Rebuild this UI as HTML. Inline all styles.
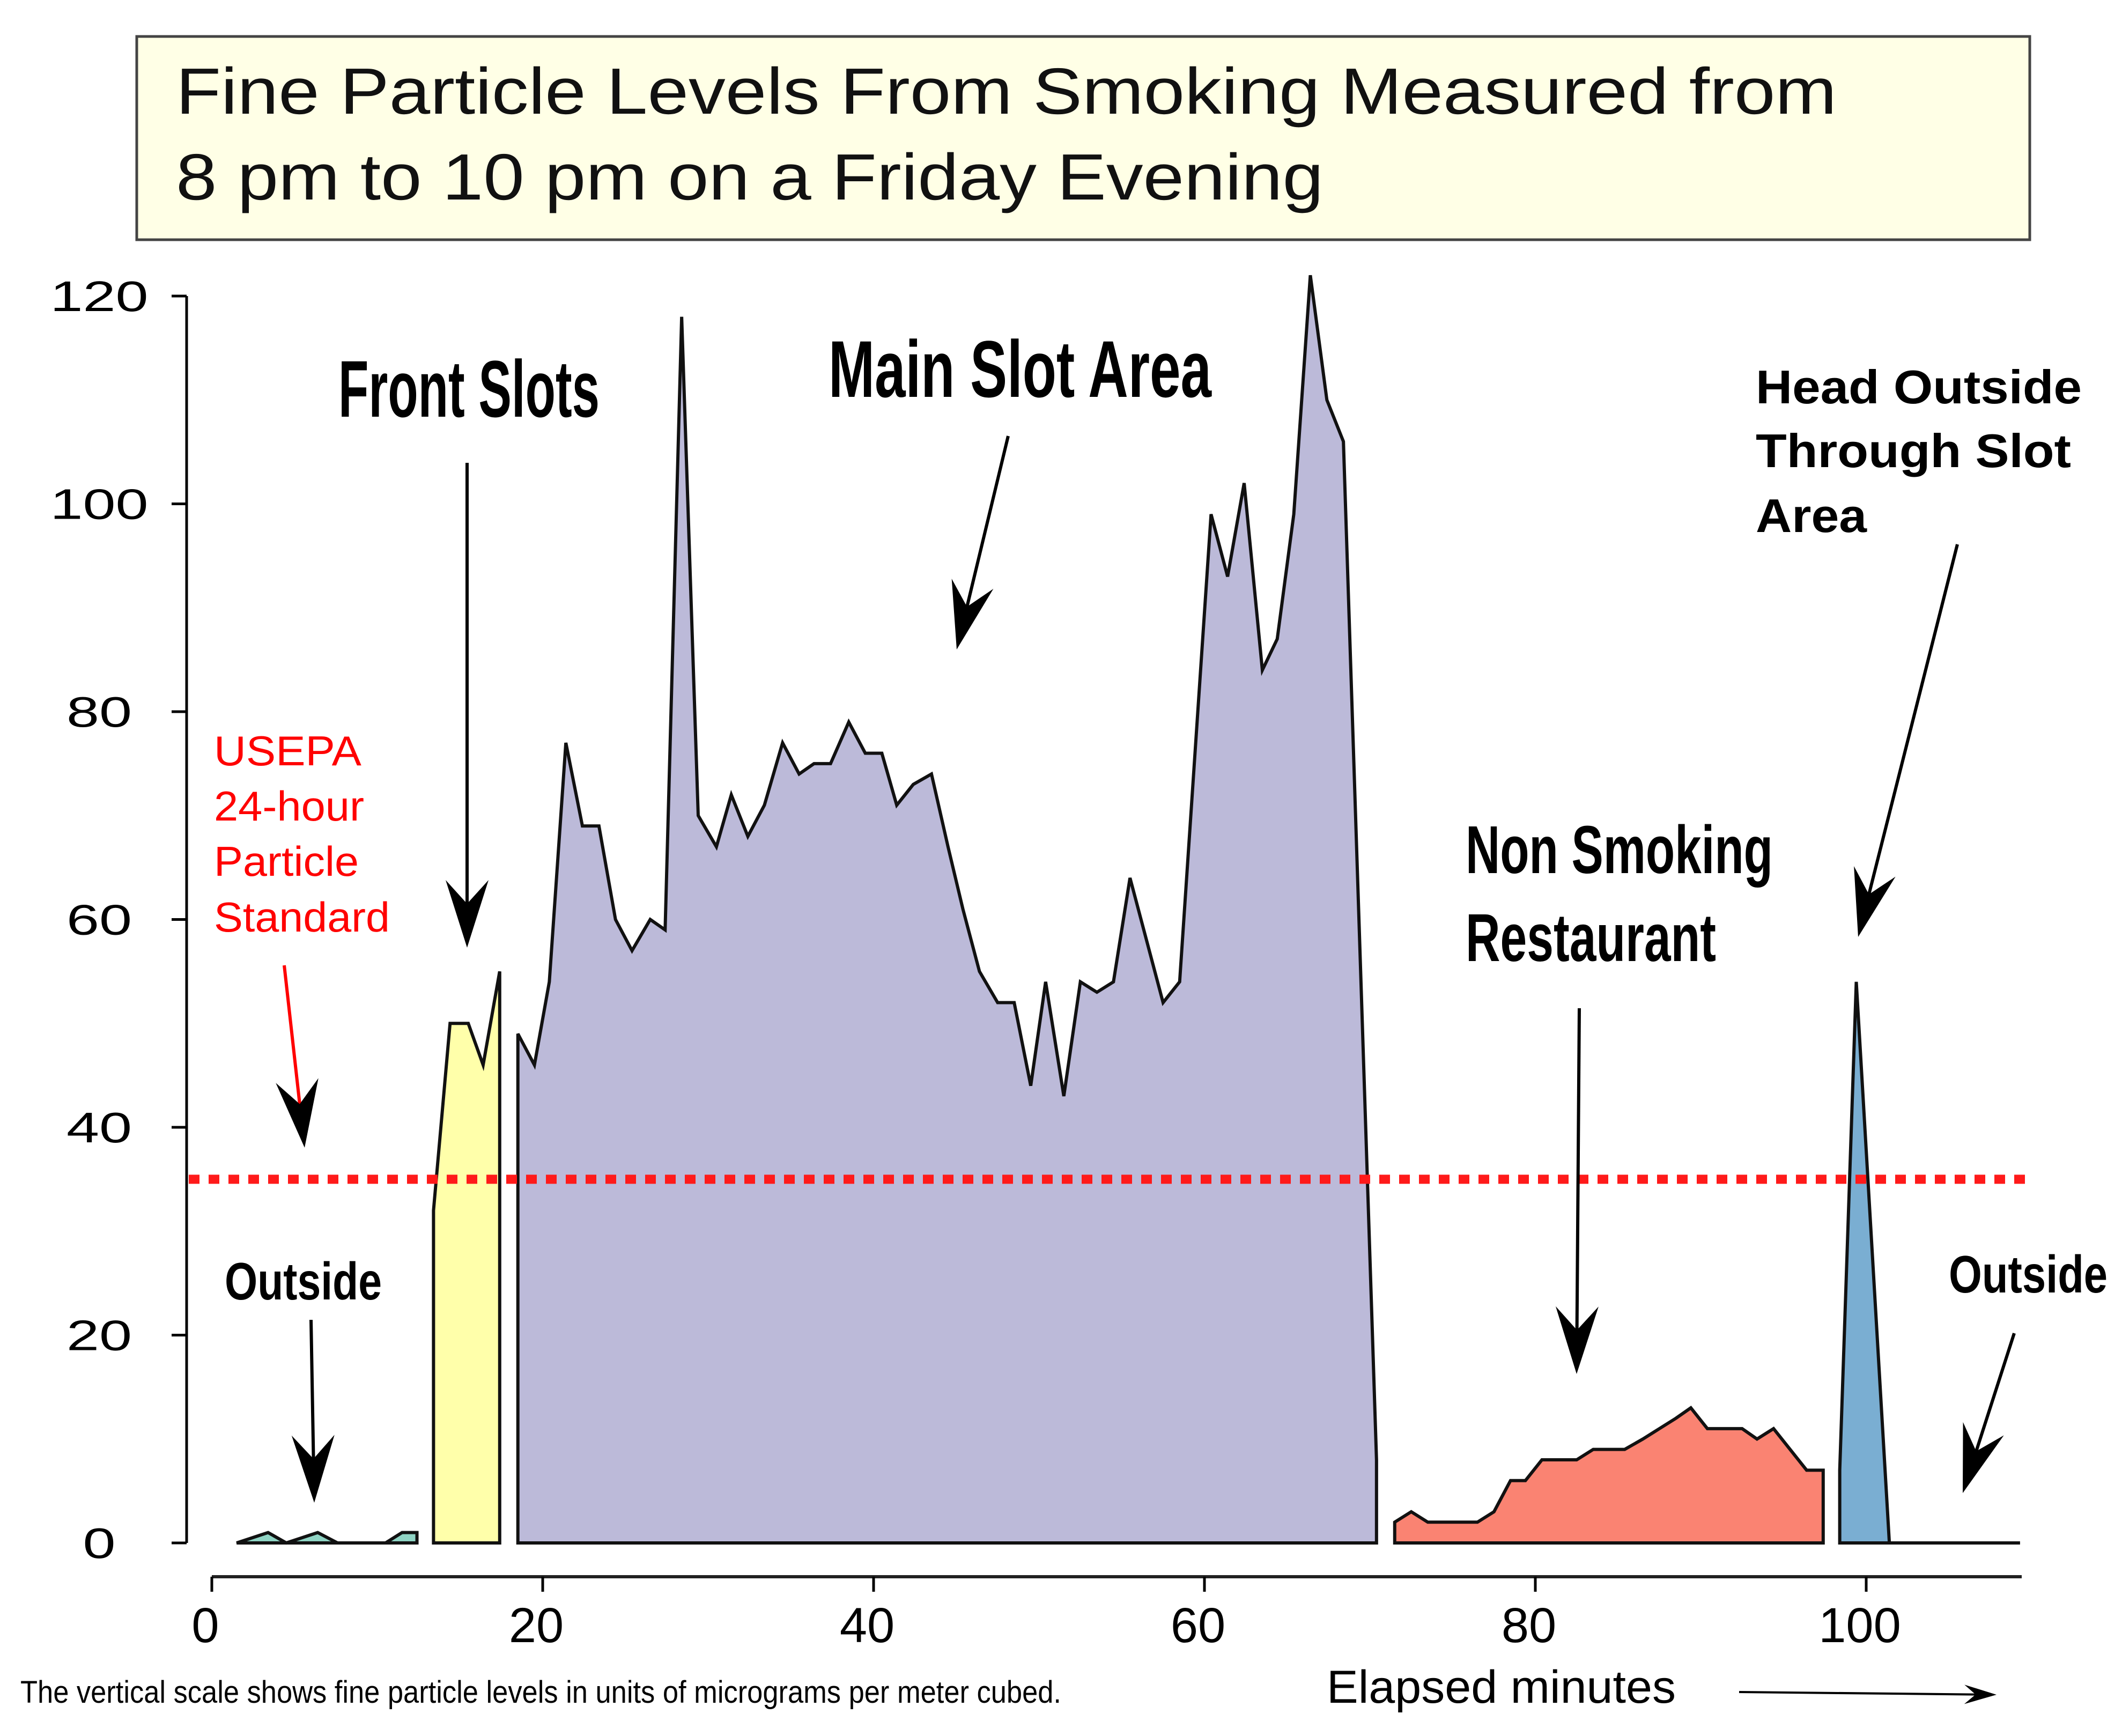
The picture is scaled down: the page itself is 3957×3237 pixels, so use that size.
<!DOCTYPE html>
<html><head><meta charset="utf-8"><style>
html,body{margin:0;padding:0;background:#fff}
svg{display:block}
</style></head><body>
<svg id="chart" width="3957" height="3237" viewBox="0 0 3957 3237" xmlns="http://www.w3.org/2000/svg" font-family="Liberation Sans, sans-serif">
<rect x="255" y="68" width="3530" height="379" fill="#ffffe6" stroke="#444" stroke-width="5"/>
<text x="328" y="212" font-size="122" fill="#111" textLength="3097" lengthAdjust="spacingAndGlyphs">Fine Particle Levels From Smoking Measured from</text>
<text x="328" y="372" font-size="122" fill="#111" textLength="2140" lengthAdjust="spacingAndGlyphs">8 pm to 10 pm on a Friday Evening</text>
<g id="areas"></g>
<g id="axes"></g>
<line id="std" x1="352" x2="3790" stroke="#ff1a1a" stroke-width="17" stroke-dasharray="20 17"/>
<g id="arrows"></g>
<g font-family="Liberation Sans Narrow, Liberation Sans, sans-serif" font-weight="bold" fill="#000">
<text x="631" y="777" font-size="150" textLength="487" lengthAdjust="spacingAndGlyphs">Front Slots</text>
<text x="1545" y="740" font-size="150" textLength="714" lengthAdjust="spacingAndGlyphs">Main Slot Area</text>
<text x="2733" y="1628" font-size="126" textLength="573" lengthAdjust="spacingAndGlyphs">Non Smoking</text>
<text x="2733" y="1792" font-size="126" textLength="467" lengthAdjust="spacingAndGlyphs">Restaurant</text>
<text x="419" y="2423" font-size="98" textLength="293" lengthAdjust="spacingAndGlyphs">Outside</text>
<text x="3634" y="2410" font-size="98" textLength="296" lengthAdjust="spacingAndGlyphs">Outside</text>
</g>
<g font-weight="bold" font-size="88" fill="#000">
<text x="3274" y="752" textLength="608" lengthAdjust="spacingAndGlyphs">Head Outside</text>
<text x="3274" y="871" textLength="588" lengthAdjust="spacingAndGlyphs">Through Slot</text>
<text x="3274" y="992" textLength="207" lengthAdjust="spacingAndGlyphs">Area</text>
</g>
<g font-size="78" fill="#ff0000">
<text x="399" y="1427" textLength="275" lengthAdjust="spacingAndGlyphs">USEPA</text>
<text x="399" y="1530" textLength="280" lengthAdjust="spacingAndGlyphs">24-hour</text>
<text x="399" y="1633" textLength="270" lengthAdjust="spacingAndGlyphs">Particle</text>
<text x="399" y="1737" textLength="328" lengthAdjust="spacingAndGlyphs">Standard</text>
</g>
<text x="2474" y="3175" font-size="86" textLength="651" lengthAdjust="spacingAndGlyphs">Elapsed minutes</text>
<text x="38" y="3175" font-size="58" textLength="1941" lengthAdjust="spacingAndGlyphs" font-family="Liberation Sans Narrow, Liberation Sans, sans-serif">The vertical scale shows fine particle levels in units of micrograms per meter cubed.</text>
</svg>
<script>
const outsideMin=[1.5,3.4,4.5,6.4,7.6,10.5,11.5,12.4];
const outsideVal=[0,1,0,1,0,0,1,1];
const frontMin=[13.4,14.4,15.5,16.4,17.4];
const frontVal=[32,50,50,46,55];
const mainMin=[18.5,19.5,20.4,21.4,22.4,23.4,24.4,25.4,26.5,27.4,28.4,29.4,30.5,31.4,32.4,33.4,34.5,35.5,36.4,37.4,38.5,39.5,40.5,41.4,42.4,43.5,44.5,45.4,46.4,47.5,48.5,49.5,50.4,51.5,52.5,53.5,54.5,55.5,56.5,57.5,58.5,60.4,61.4,62.4,63.5,64.4,65.4,66.4,67.4,68.4,70.4];
const mainVal=[49,46,54,77,69,69,60,57,60,59,118,70,67,72,68,71,77,74,75,75,79,76,76,71,73,74,67,61,55,52,52,44,54,43,54,53,54,64,58,52,54,99,93,102,84,87,99,122,110,106,8];
const restMin=[71.5,72.5,73.5,74.4,75.4,76.5,77.5,78.5,79.4,80.4,81.5,82.5,83.5,84.4,85.4,86.5,87.5,88.5,89.4,90.4,91.4,92.5,93.4,94.4,95.4,96.4,97.4];
const restVal=[2,3,2,2,2,2,3,6,6,8,8,8,9,9,9,10,11,12,13,11,11,11,10,11,9,7,7];
const headMin=[98.4,99.4,101.4];
const headVal=[7,54,0];
const tailMin=[101.4,109.3];
const yTicks=[0,20,40,60,80,100,120];
const xTicks=[0,20,40,60,80,100];
const standard=35;
const NS='http://www.w3.org/2000/svg';
const X=m=>395+m*30.85, Y=v=>2877-v*19.375;
function mk(t,a,p){const e=document.createElementNS(NS,t);for(const k in a)e.setAttribute(k,a[k]);p.appendChild(e);return e;}
const areas=document.getElementById('areas'),axes=document.getElementById('axes'),arrows=document.getElementById('arrows');
function area(ms,vs,fill,name){
  let d='M'+X(ms[0])+','+Y(0);
  ms.forEach((m,i)=>d+=' L'+X(m)+','+Y(vs[i]));
  d+=' L'+X(ms[ms.length-1])+','+Y(0)+' Z';
  const p=mk('path',{d:d,fill:fill,stroke:'#111','stroke-width':6,'stroke-linejoin':'miter'},areas);
  
  
}
area(outsideMin,outsideVal,'#8fd4c4','outside-start-area');
area(frontMin,frontVal,'#ffffaa','front-slots-area');
area(mainMin,mainVal,'#bcbad9','main-slot-area');
area(restMin,restVal,'#fa8372','restaurant-area');
area(headMin,headVal,'#7aaed2','head-outside-area');
const tl=mk('line',{x1:X(tailMin[0]),x2:X(tailMin[1]),y1:Y(0),y2:Y(0),stroke:'#111','stroke-width':6},areas);


const s=document.getElementById('std');s.setAttribute('y1',Y(standard));s.setAttribute('y2',Y(standard));
const ya=mk('line',{x1:348,x2:348,y1:Y(120),y2:Y(0),stroke:'#000','stroke-width':5},axes);


yTicks.forEach(v=>{
  const t=mk('line',{x1:320,x2:348,y1:Y(v),y2:Y(v),stroke:'#000','stroke-width':5},axes);
  
  
  const str=String(v);
  const l=mk('text',{x:185,y:Y(v)+28,'font-size':80,'text-anchor':'middle',textLength:str.length*61,lengthAdjust:'spacingAndGlyphs'},axes);
  l.textContent=str;
  
  
});
const xa=mk('line',{x1:X(0),x2:3770,y1:2940,y2:2940,stroke:'#222','stroke-width':6},axes);


xTicks.forEach(m=>{
  const t=mk('line',{x1:X(m),x2:X(m),y1:2940,y2:2968,stroke:'#000','stroke-width':5},axes);
  
  
  const l=mk('text',{x:X(m)-12,y:3062,'font-size':92,'text-anchor':'middle','font-family':'Liberation Sans Narrow, Liberation Sans, sans-serif'},axes);
  l.textContent=m;
  
  
});
function arrow(x1,y1,x2,y2,name,col,hl,hw,sw){
  col=col||'#000';hl=hl||126;hw=hw||40;sw=sw||6;
  const dx=x2-x1,dy=y2-y1,L=Math.hypot(dx,dy),ux=dx/L,uy=dy/L,px=-uy,py=ux;
  const g=mk('g',{},arrows);
  
  
  mk('line',{x1:x1,y1:y1,x2:x2-ux*hl*0.6,y2:y2-uy*hl*0.6,stroke:col,'stroke-width':sw},g);
  const bx=x2-ux*hl,by=y2-uy*hl,ix=x2-ux*hl*0.65,iy=y2-uy*hl*0.65;
  mk('polygon',{points:`${x2},${y2} ${bx+px*hw},${by+py*hw} ${ix},${iy} ${bx-px*hw},${by-py*hw}`,fill:'#000'},g);
}
arrow(871,863,871,1767,'front-slots-arrow');
arrow(1880,813,1784,1211,'main-slot-arrow');
arrow(530,1800,568,2140,'usepa-arrow','#ff0000');
arrow(580,2461,586,2802,'outside-left-arrow');
arrow(2945,1880,2940,2562,'non-smoking-arrow');
arrow(3650,1015,3465,1747,'head-outside-arrow');
arrow(3756,2486,3660,2784,'outside-right-arrow');
arrow(3243,3155,3723,3160,'elapsed-minutes-arrow','#000',60,18,4);
</script>
</body></html>
